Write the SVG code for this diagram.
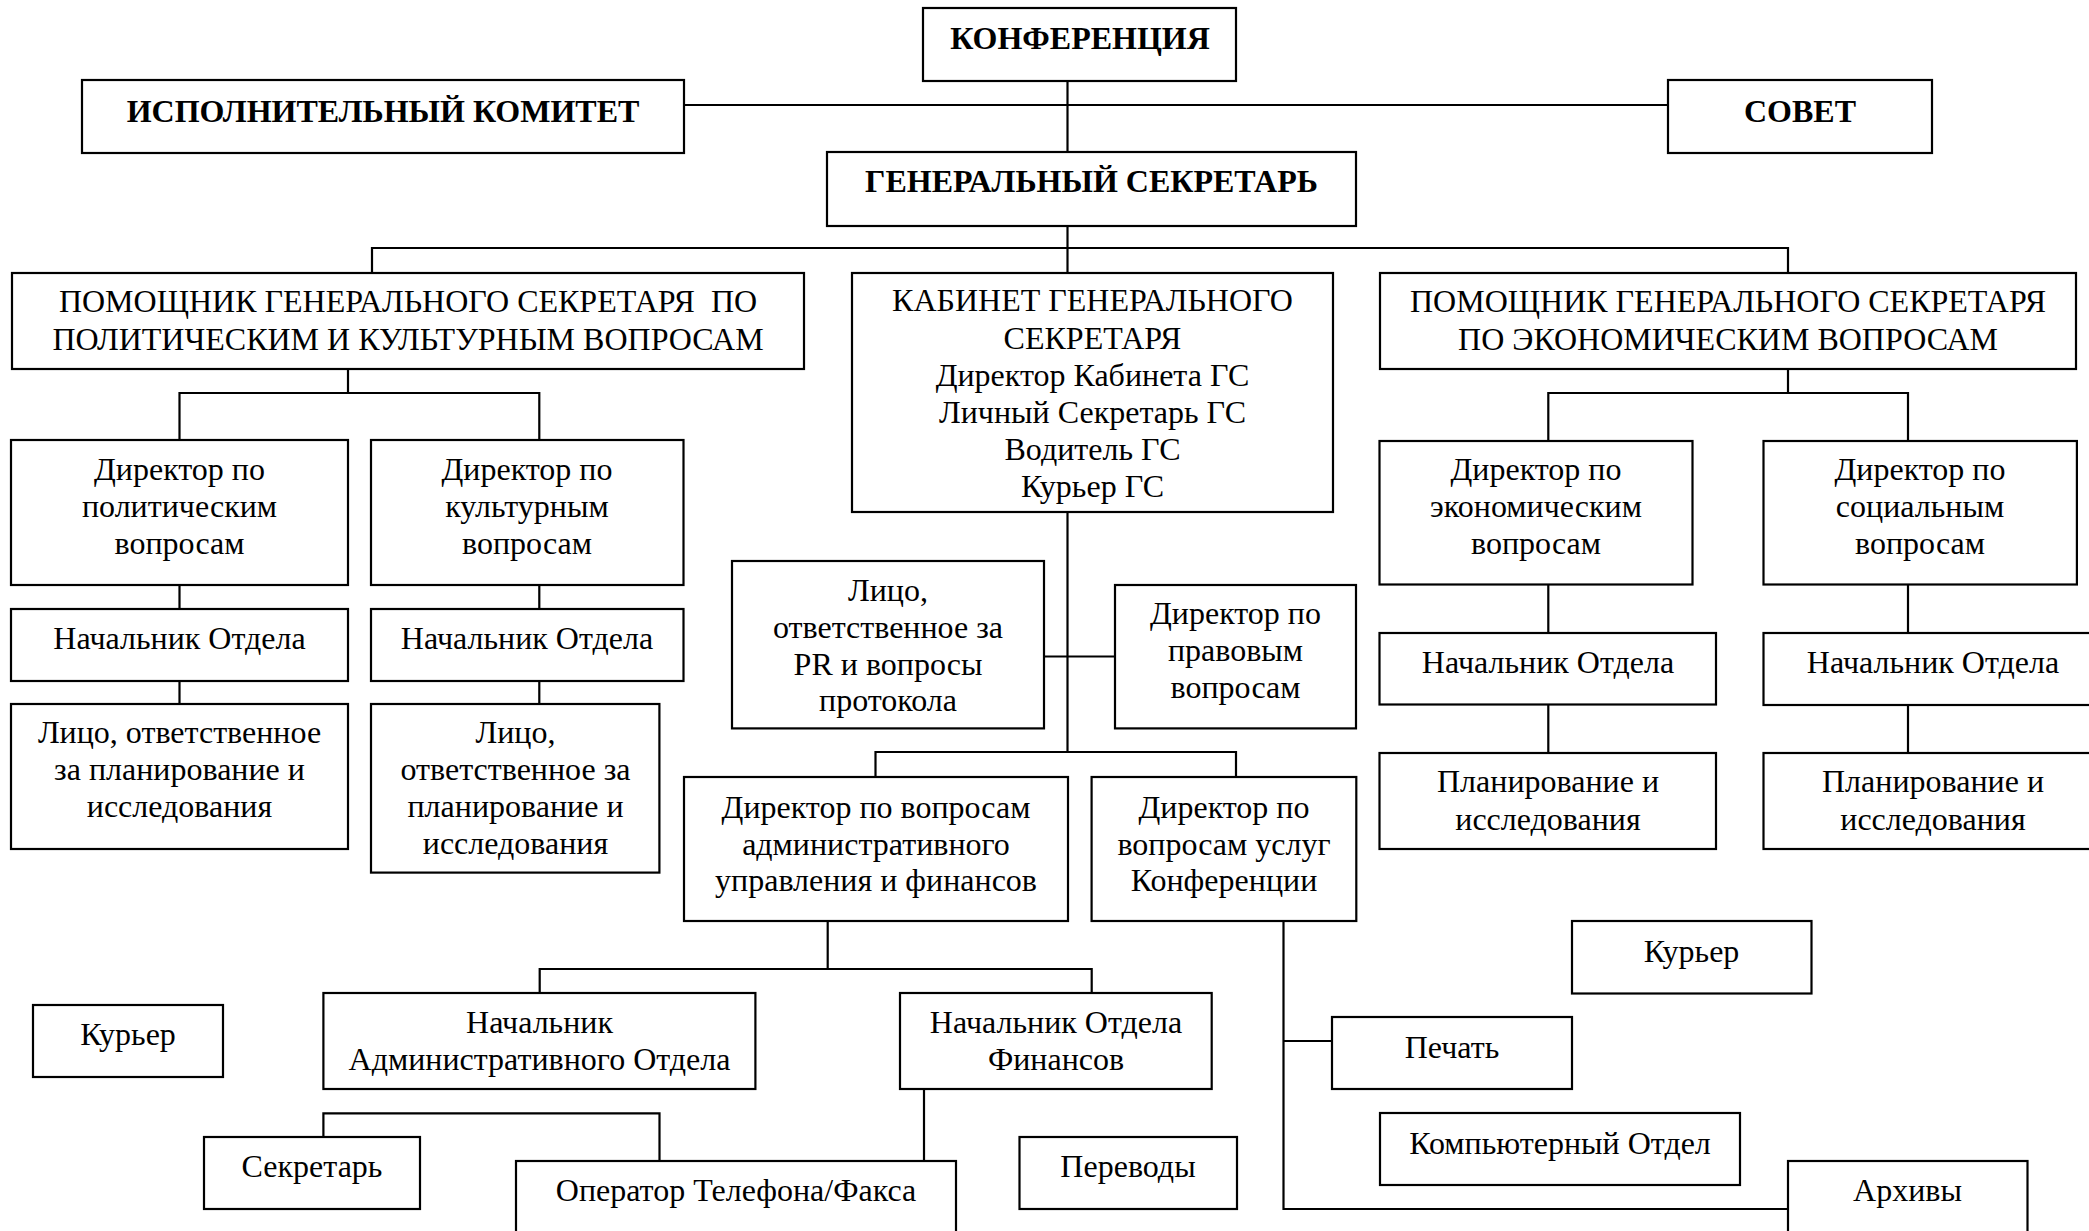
<svg xmlns="http://www.w3.org/2000/svg" width="2089" height="1231" viewBox="0 0 2089 1231">
<style>
.b{fill:#fff;stroke:#000;stroke-width:2.2}
.c{fill:none;stroke:#000;stroke-width:2.2}
text{font-family:"Liberation Serif","Times New Roman",serif;font-size:32px;fill:#000;text-anchor:middle}
.h{font-weight:bold;font-size:32px}
</style>
<rect x="0" y="0" width="2089" height="1231" fill="#fff"/>
<g id="connectors" class="c">
<path d="M684 105H1668"/>
<path d="M1067.5 81V152"/>
<path d="M1067.5 226V273"/>
<path d="M372 273V248H1788V273"/>
<path d="M348 369V393"/>
<path d="M179.5 440V393H539.3V440"/>
<path d="M179.5 585V609M179.5 681V704"/>
<path d="M539.3 585V609M539.3 681V704"/>
<path d="M1788 369V393"/>
<path d="M1548.3 441V393H1908V441"/>
<path d="M1548.3 584V633M1548.3 704V753"/>
<path d="M1908 584V633M1908 704V753"/>
<path d="M1067.5 512V752"/>
<path d="M1044 656.5H1115"/>
<path d="M875.5 777V752H1236V777"/>
<path d="M827.7 921V969"/>
<path d="M539.7 993V969H1091.7V993"/>
<path d="M924 1089V1161"/>
<path d="M323.4 1137V1113.3H659.5V1161"/>
<path d="M1283.5 921V1209H1788"/>
<path d="M1283.5 1041H1332"/>
</g>
<g id="konferencia"><rect class="b" x="923" y="8" width="313" height="73"/><text class="h" x="1080" y="49">КОНФЕРЕНЦИЯ</text></g>
<g id="ispolkom"><rect class="b" x="82" y="80" width="602" height="73"/><text class="h" x="383" y="122">ИСПОЛНИТЕЛЬНЫЙ КОМИТЕТ</text></g>
<g id="sovet"><rect class="b" x="1668" y="80" width="264" height="73"/><text class="h" x="1800" y="122">СОВЕТ</text></g>
<g id="gensek"><rect class="b" x="827" y="152" width="529" height="74"/><text class="h" x="1091.5" y="192">ГЕНЕРАЛЬНЫЙ СЕКРЕТАРЬ</text></g>
<g id="pom-left"><rect class="b" x="12" y="273" width="792" height="96"/><text x="408" y="312" xml:space="preserve">ПОМОЩНИК ГЕНЕРАЛЬНОГО СЕКРЕТАРЯ  ПО</text><text x="408" y="350">ПОЛИТИЧЕСКИМ И КУЛЬТУРНЫМ ВОПРОСАМ</text></g>
<g id="cabinet"><rect class="b" x="852" y="273" width="481" height="239"/>
<text x="1092.5" y="311">КАБИНЕТ ГЕНЕРАЛЬНОГО</text>
<text x="1092.5" y="349">СЕКРЕТАРЯ</text>
<text x="1092.5" y="386">Директор Кабинета ГС</text>
<text x="1092.5" y="423">Личный Секретарь ГС</text>
<text x="1092.5" y="460">Водитель ГС</text>
<text x="1092.5" y="497">Курьер ГС</text></g>
<g id="pom-right"><rect class="b" x="1380" y="273" width="696" height="96"/><text x="1728" y="312">ПОМОЩНИК ГЕНЕРАЛЬНОГО СЕКРЕТАРЯ</text><text x="1728" y="350">ПО ЭКОНОМИЧЕСКИМ ВОПРОСАМ</text></g>
<g id="dir-pol"><rect class="b" x="11" y="440" width="337" height="145"/><text x="179.5" y="480">Директор по</text><text x="179.5" y="517">политическим</text><text x="179.5" y="554">вопросам</text></g>
<g id="dir-cult"><rect class="b" x="371" y="440" width="312.5" height="145"/><text x="527" y="480">Директор по</text><text x="527" y="517">культурным</text><text x="527" y="554">вопросам</text></g>
<g id="nach-pol"><rect class="b" x="11" y="609" width="337" height="72"/><text x="179.5" y="649">Начальник Отдела</text></g>
<g id="nach-cult"><rect class="b" x="371" y="609" width="312.5" height="72"/><text x="527" y="649">Начальник Отдела</text></g>
<g id="lico-pol"><rect class="b" x="11" y="704" width="337" height="145"/><text x="179.5" y="743">Лицо, ответственное</text><text x="179.5" y="780">за планирование и</text><text x="179.5" y="817">исследования</text></g>
<g id="lico-cult"><rect class="b" x="371" y="704" width="288.4" height="168.6"/><text x="515.5" y="743">Лицо,</text><text x="515.5" y="780">ответственное за</text><text x="515.5" y="817">планирование и</text><text x="515.5" y="854">исследования</text></g>
<g id="dir-econ"><rect class="b" x="1379.5" y="441" width="313" height="143.5"/><text x="1536" y="480">Директор по</text><text x="1536" y="517">экономическим</text><text x="1536" y="554">вопросам</text></g>
<g id="dir-soc"><rect class="b" x="1763.5" y="441" width="313.4" height="143.5"/><text x="1920" y="480">Директор по</text><text x="1920" y="517">социальным</text><text x="1920" y="554">вопросам</text></g>
<g id="nach-econ"><rect class="b" x="1379.5" y="633" width="336.5" height="71.5"/><text x="1548" y="673">Начальник Отдела</text></g>
<g id="nach-soc"><rect class="b" x="1763.5" y="633" width="340" height="72"/><text x="1933" y="673">Начальник Отдела</text></g>
<g id="plan-econ"><rect class="b" x="1379.5" y="753" width="336.5" height="96"/><text x="1548" y="792">Планирование и</text><text x="1548" y="830">исследования</text></g>
<g id="plan-soc"><rect class="b" x="1763.5" y="753" width="340" height="96"/><text x="1933" y="792">Планирование и</text><text x="1933" y="830">исследования</text></g>
<g id="pr"><rect class="b" x="732" y="561" width="312" height="167.4"/><text x="888" y="601">Лицо,</text><text x="888" y="638">ответственное за</text><text x="888" y="675">PR и вопросы</text><text x="888" y="711">протокола</text></g>
<g id="legal"><rect class="b" x="1115" y="585" width="241" height="143.4"/><text x="1235.5" y="624">Директор по</text><text x="1235.5" y="661">правовым</text><text x="1235.5" y="698">вопросам</text></g>
<g id="admin-dir"><rect class="b" x="684" y="777" width="384" height="144"/><text x="876" y="818">Директор по вопросам</text><text x="876" y="855">административного</text><text x="876" y="891">управления и финансов</text></g>
<g id="conf-serv"><rect class="b" x="1091.6" y="777" width="264.7" height="144"/><text x="1224" y="818">Директор по</text><text x="1224" y="855">вопросам услуг</text><text x="1224" y="891">Конференции</text></g>
<g id="kurier-left"><rect class="b" x="33" y="1005" width="190" height="72"/><text x="128" y="1045">Курьер</text></g>
<g id="nach-adm"><rect class="b" x="323.4" y="993" width="432" height="96"/><text x="539.5" y="1033">Начальник</text><text x="539.5" y="1070">Административного Отдела</text></g>
<g id="finance"><rect class="b" x="900" y="993" width="311.7" height="96"/><text x="1056" y="1033">Начальник Отдела</text><text x="1056" y="1070">Финансов</text></g>
<g id="secretary"><rect class="b" x="204" y="1137" width="216" height="72"/><text x="312" y="1177">Секретарь</text></g>
<g id="operator"><rect class="b" x="516" y="1161" width="440" height="100"/><text x="736" y="1201">Оператор Телефона/Факса</text></g>
<g id="perevody"><rect class="b" x="1019.5" y="1137" width="217.5" height="72"/><text x="1128" y="1177">Переводы</text></g>
<g id="kurier-right"><rect class="b" x="1572" y="921" width="239.5" height="72.5"/><text x="1691.5" y="962">Курьер</text></g>
<g id="pechat"><rect class="b" x="1332" y="1017" width="240" height="72"/><text x="1452" y="1058">Печать</text></g>
<g id="computer"><rect class="b" x="1380" y="1113" width="360" height="72"/><text x="1560" y="1154">Компьютерный Отдел</text></g>
<g id="archive"><rect class="b" x="1788" y="1161" width="239.5" height="100"/><text x="1907.5" y="1201">Архивы</text></g>
</svg>
